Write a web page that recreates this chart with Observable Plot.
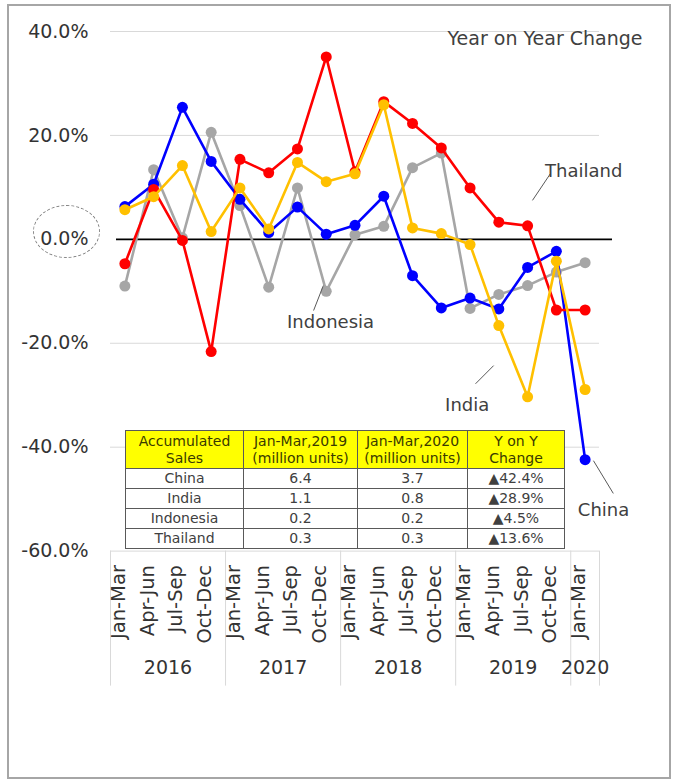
<!DOCTYPE html>
<html><head><meta charset="utf-8">
<script src="https://cdn.jsdelivr.net/npm/d3@7"></script>
<script src="https://cdn.jsdelivr.net/npm/@observablehq/plot@0.6"></script>
<style>
body{margin:0;background:#fff;font-family:"DejaVu Sans",Verdana,sans-serif;}
#wrap{position:relative;width:674px;height:780px;overflow:hidden;background:#fff;}
#chart{position:absolute;left:0;top:0;}
#frame{position:absolute;left:7px;top:4px;width:664px;height:775px;box-sizing:border-box;border:2px solid #a6a6a6;pointer-events:none;}
#ell{position:absolute;left:33px;top:205px;width:67px;height:53px;box-sizing:border-box;border:1.3px dashed #808080;border-radius:50%;}
#tbl{position:absolute;left:125px;top:430px;border-collapse:collapse;font-size:14px;color:#404040;table-layout:fixed;}
#tbl td,#tbl th{border:1px solid #595959;padding:0;text-align:center;font-weight:normal;line-height:17px;background:#fff;white-space:nowrap;}
#tbl th{background:#ffff00;height:37px;color:#3a3a00;}
#tbl td{height:19px;}
</style></head>
<body>
<div id="wrap">
  <div id="chart"></div>
  <div id="ell"></div>
  <table id="tbl"></table>
  <div id="frame"></div>
</div>
<script>
// ---- data ----
const quarters = ["Jan-Mar","Apr-Jun","Jul-Sep","Oct-Dec","Jan-Mar","Apr-Jun","Jul-Sep","Oct-Dec","Jan-Mar","Apr-Jun","Jul-Sep","Oct-Dec","Jan-Mar","Apr-Jun","Jul-Sep","Oct-Dec","Jan-Mar"];
const years = ["2016","2016","2016","2016","2017","2017","2017","2017","2018","2018","2018","2018","2019","2019","2019","2019","2020"];

const indonesia = [-9.0, 13.4, 0.3, 20.6, 6.5, -9.2, 9.9, -10.0, 0.9, 2.5, 13.8, 16.6, -13.3, -10.6, -8.9, -6.3, -4.5];
const china     = [6.3, 10.6, 25.4, 15.0, 7.7, 1.3, 6.2, 1.0, 2.7, 8.3, -7.0, -13.2, -11.3, -13.4, -5.4, -2.3, -42.4];
const thailand  = [-4.7, 9.6, -0.2, -21.6, 15.4, 12.8, 17.4, 35.1, 13.0, 26.5, 22.3, 17.6, 9.9, 3.3, 2.6, -13.6, -13.6];
const india     = [5.7, 8.2, 14.2, 1.5, 9.9, 2.0, 14.8, 11.1, 12.6, 25.9, 2.2, 1.1, -1.0, -16.6, -30.3, -4.2, -28.9];

const seriesNames  = ["Indonesia", "China", "Thailand", "India"];
const seriesValues = [indonesia, china, thailand, india];
const seriesColors = ["#a6a6a6", "#0000ff", "#ff0000", "#ffc000"];

const yTicks = [40, 20, 0, -20, -40, -60];

// annotation labels (data units: quarter index, percent)
const annotText = ["Thailand", "Indonesia", "India", "China"];
const annotX    = [15.95, 7.15, 11.9, 16.64];
const annotY    = [13.2, -16.0, -32.0, -52.2];
const leaderX1  = [14.8, 6.9, 12.82, 16.29];
const leaderY1  = [12.7, -8.9, -24.3, -42.6];
const leaderX2  = [14.17, 6.56, 12.19, 16.98];
const leaderY2  = [7.5, -13.7, -27.8, -48.9];

const titleText = "Year on Year Change";

// table
const tableHeader = [["Accumulated","Sales"],["Jan-Mar,2019","(million units)"],["Jan-Mar,2020","(million units)"],["Y on Y","Change"]];
const tableCountries = ["China", "India", "Indonesia", "Thailand"];
const tableSales2019 = ["6.4", "1.1", "0.2", "0.3"];
const tableSales2020 = ["3.7", "0.8", "0.2", "0.3"];
const tableChange    = ["▲42.4%", "▲28.9%", "▲4.5%", "▲13.6%"];
const tableColWidths = [118, 114, 110, 97];

// ---- derived ----
const idx = d3.range(quarters.length);
const series = seriesNames.map((name, k) => ({name, color: seriesColors[k], pts: seriesValues[k].map((v, i) => ({i, v}))}));
const yearList = Array.from(new Set(years));
const yearGroups = yearList.map(y => {
  const is = idx.filter(i => years[i] === y);
  return {year: y, mid: d3.mean(is), start: d3.min(is) - 0.5, end: d3.max(is) + 0.5};
});
const separators = Array.from(new Set(yearGroups.flatMap(g => [g.start, g.end])));
const annots = annotText.map((t, k) => ({t, x: annotX[k], y: annotY[k], x1: leaderX1[k], y1: leaderY1[k], x2: leaderX2[k], y2: leaderY2[k]}));

const txt = "#333333";
const marks = [
  Plot.ruleY(yTicks.filter(t => t !== 0), {stroke: "#d9d9d9", strokeWidth: 1}),
  Plot.ruleX(separators, {x: d => d, y1: -60, y2: -60, insetBottom: -135, stroke: "#d9d9d9", strokeWidth: 1}),
  Plot.ruleY([0], {stroke: "#000", strokeWidth: 1.6, insetLeft: 6, insetRight: -13}),
  Plot.axisY({ticks: yTicks, tickFormat: d => d.toFixed(1) + "%", tickSize: 0, tickPadding: 22, fontSize: 19, fill: txt}),
];
for (const s of series) {
  marks.push(Plot.line(s.pts, {x: "i", y: "v", stroke: s.color, strokeWidth: 2.6}));
  marks.push(Plot.dot(s.pts, {x: "i", y: "v", r: 5.5, fill: s.color, stroke: "none"}));
}
marks.push(
  Plot.text(idx, {x: d => d, frameAnchor: "bottom", dy: 14, text: i => quarters[i], rotate: -90, textAnchor: "end", fontSize: 19.5, fill: txt}),
  Plot.text(yearGroups, {x: "mid", frameAnchor: "bottom", dy: 123, text: "year", fontSize: 19, fill: txt}),
  Plot.link(annots, {x1: "x1", y1: "y1", x2: "x2", y2: "y2", stroke: "#595959", strokeWidth: 1}),
  Plot.text(annots, {x: "x", y: "y", text: "t", fontSize: 18, fill: "#404040"}),
  Plot.text([titleText], {frameAnchor: "top-right", dx: 43, dy: 0, text: d => d, fontSize: 19, fill: "#404040", textAnchor: "end"})
);

const chart = Plot.plot({
  width: 674, height: 780,
  marginLeft: 110, marginRight: 75, marginTop: 31, marginBottom: 229.4,
  x: {domain: [-0.5, quarters.length - 0.5], axis: null},
  y: {domain: [-60, 40], axis: null},
  style: {background: "transparent", fontFamily: "'DejaVu Sans', Verdana, sans-serif", color: txt},
  marks
});
document.getElementById("chart").appendChild(chart);

// table
const tbl = document.getElementById("tbl");
const cg = document.createElement("colgroup");
tableColWidths.forEach(w => { const c = document.createElement("col"); c.style.width = w + "px"; cg.appendChild(c); });
tbl.appendChild(cg);
const hr = document.createElement("tr");
tableHeader.forEach(h => { const th = document.createElement("th"); th.innerHTML = h.join("<br>"); hr.appendChild(th); });
tbl.appendChild(hr);
tableCountries.forEach((c, k) => {
  const tr = document.createElement("tr");
  [c, tableSales2019[k], tableSales2020[k], tableChange[k]].forEach(v => { const td = document.createElement("td"); td.textContent = v; tr.appendChild(td); });
  tbl.appendChild(tr);
});
</script>
</body></html>
